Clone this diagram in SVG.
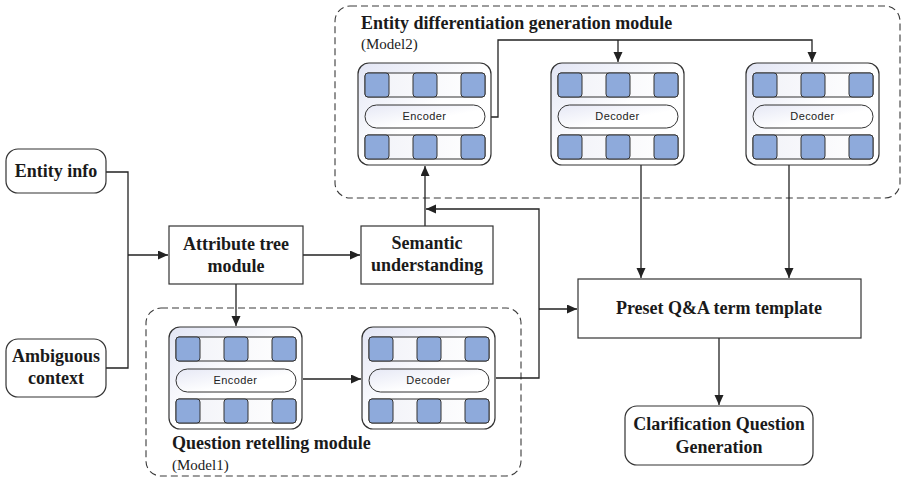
<svg xmlns="http://www.w3.org/2000/svg" xmlns:xlink="http://www.w3.org/1999/xlink" width="904" height="480" viewBox="0 0 904 480">
<defs>
<style>
.box{fill:#fff;stroke:#333;stroke-width:1.2}
.dash{fill:none;stroke:#3a3a3a;stroke-width:1.1;stroke-dasharray:7 4}
.lbl{font-family:"Liberation Serif","Times New Roman",serif;font-weight:bold;font-size:18px;fill:#1a1a1a;text-anchor:middle}
.title{font-family:"Liberation Serif","Times New Roman",serif;font-weight:bold;font-size:18px;fill:#1a1a1a}
.sub{font-family:"Liberation Serif","Times New Roman",serif;font-size:15px;fill:#222}
.mod{fill:url(#gMod);stroke:#333;stroke-width:1.2}
.row{fill:url(#gCell);stroke:#333;stroke-width:1}
.blue{fill:#8eaadb;stroke:#333;stroke-width:1}
.pill{fill:url(#gPill);stroke:#333;stroke-width:1}
.ed{font-family:"Liberation Sans",Arial,sans-serif;font-size:11px;letter-spacing:0.4px;fill:#222;text-anchor:middle}
.con{fill:none;stroke:#222;stroke-width:1.3}
</style>
<linearGradient id="gMod" x1="0" y1="0" x2="1" y2="1">
<stop offset="0" stop-color="#e2e5f4"/><stop offset="0.5" stop-color="#ffffff"/><stop offset="1" stop-color="#ffffff"/>
</linearGradient>
<linearGradient id="gPill" x1="0" y1="0" x2="1" y2="1">
<stop offset="0" stop-color="#e6e8f5"/><stop offset="0.6" stop-color="#ffffff"/>
</linearGradient>
<linearGradient id="gCell" x1="0" y1="0" x2="1" y2="0">
<stop offset="0" stop-color="#f1f2f8"/><stop offset="1" stop-color="#ffffff"/>
</linearGradient>
<marker id="arr" markerUnits="userSpaceOnUse" markerWidth="12" markerHeight="10" refX="10" refY="4.5" orient="auto">
<path d="M0,0 L10,4.5 L0,9 Z" fill="#222"/>
</marker>
<g id="unit">
<rect class="mod" x="0" y="0" width="133" height="102" rx="11"/>
<rect class="row" x="7" y="10" width="120" height="24" rx="3"/>
<rect class="blue" x="7" y="10" width="24" height="24" rx="3"/>
<rect class="blue" x="55" y="10" width="24" height="24" rx="3"/>
<rect class="blue" x="103" y="10" width="24" height="24" rx="3"/>
<rect class="pill" x="7" y="42" width="120" height="23" rx="11.5"/>
<rect class="row" x="7" y="72" width="120" height="24" rx="3"/>
<rect class="blue" x="7" y="72" width="24" height="24" rx="3"/>
<rect class="blue" x="55" y="72" width="24" height="24" rx="3"/>
<rect class="blue" x="103" y="72" width="24" height="24" rx="3"/>
</g>
</defs>
<rect width="904" height="480" fill="#fff"/>

<g id="module2">
<rect class="dash" x="335" y="6" width="565" height="192" rx="15"/>
<text class="title" x="361" y="29">Entity differentiation generation module</text>
<text class="sub" x="361" y="49">(Model2)</text>
</g>
<g id="module1">
<rect class="dash" x="146" y="308" width="375" height="168" rx="15"/>
<text class="title" x="172" y="449">Question retelling module</text>
<text class="sub" x="172" y="470">(Model1)</text>
</g>

<g id="connectors">
<path class="con" d="M106 172 H128 V368 H106"/>
<path class="con" d="M128 255 H168" marker-end="url(#arr)"/>
<path class="con" d="M303 255 H360" marker-end="url(#arr)"/>
<path class="con" d="M425 226 V166" marker-end="url(#arr)"/>
<path class="con" d="M236 284 V326" marker-end="url(#arr)"/>
<path class="con" d="M303 379 H361" marker-end="url(#arr)"/>
<path class="con" d="M496 378 H539 V209 H426" marker-end="url(#arr)"/>
<path class="con" d="M539 309 H577" marker-end="url(#arr)"/>
<path class="con" d="M491 117 H498 V40 H812 V62" marker-end="url(#arr)"/>
<path class="con" d="M618 40 V62" marker-end="url(#arr)"/>
<path class="con" d="M641 165 V278" marker-end="url(#arr)"/>
<path class="con" d="M789 165 V278" marker-end="url(#arr)"/>
<path class="con" d="M719 338 V405" marker-end="url(#arr)"/>
</g>

<g id="entity-info">
<rect class="box" x="6" y="149" width="100" height="44" rx="12"/>
<text class="lbl" x="56" y="177">Entity info</text>
</g>
<g id="ambiguous-context">
<rect class="box" x="6" y="339" width="100" height="58" rx="12"/>
<text class="lbl" x="56" y="362">Ambiguous</text>
<text class="lbl" x="56" y="384">context</text>
</g>
<g id="attribute-tree">
<rect class="box" x="169" y="226" width="134" height="58"/>
<text class="lbl" x="236" y="250">Attribute tree</text>
<text class="lbl" x="236" y="272">module</text>
</g>
<g id="semantic">
<rect class="box" x="361" y="226" width="132" height="58"/>
<text class="lbl" x="427" y="249">Semantic</text>
<text class="lbl" x="427" y="271">understanding</text>
</g>
<g id="preset">
<rect class="box" x="578" y="279" width="283" height="59"/>
<text class="lbl" x="719" y="314">Preset Q&amp;A term template</text>
</g>
<g id="clarification">
<rect class="box" x="625" y="406" width="188" height="59" rx="12"/>
<text class="lbl" x="719" y="430">Clarification Question</text>
<text class="lbl" x="719" y="453">Generation</text>
</g>

<g id="encoder2">
<use xlink:href="#unit" x="358" y="63"/>
<text class="ed" x="424.5" y="120">Encoder</text>
</g>
<g id="decoder2a">
<use xlink:href="#unit" x="551" y="63"/>
<text class="ed" x="617.5" y="120">Decoder</text>
</g>
<g id="decoder2b">
<use xlink:href="#unit" x="746" y="63"/>
<text class="ed" x="812.5" y="120">Decoder</text>
</g>
<g id="encoder1">
<use xlink:href="#unit" x="169" y="327"/>
<text class="ed" x="235.5" y="384">Encoder</text>
</g>
<g id="decoder1">
<use xlink:href="#unit" x="362" y="327"/>
<text class="ed" x="428.5" y="384">Decoder</text>
</g>
</svg>
